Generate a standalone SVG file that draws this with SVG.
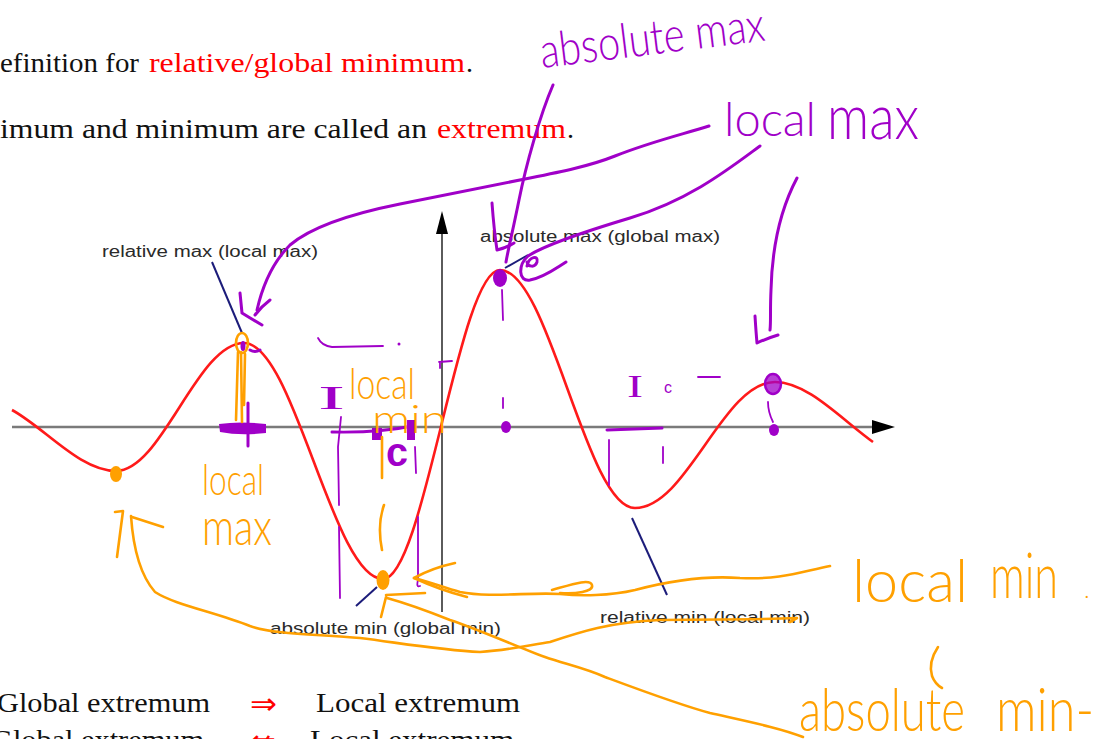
<svg xmlns="http://www.w3.org/2000/svg" width="1097" height="739" viewBox="0 0 1097 739">
<defs>
<style>
.serif{font-family:"Liberation Serif","DejaVu Serif",serif;font-size:28px;fill:#111}
.red{fill:#ff0000}
.lbl{font-family:"Liberation Sans","Noto Sans",sans-serif;font-size:16px;fill:#2a2a2a}
.ptr{stroke:#1c1c7a;stroke-width:2;fill:none}
.pu{fill:none;stroke:#a000c8;stroke-width:3;stroke-linecap:round;stroke-linejoin:round}
.pt{fill:none;stroke:#a000c8;stroke-width:1.8;stroke-linecap:round}
.or{fill:none;stroke:#ffa000;stroke-width:2.6;stroke-linecap:round;stroke-linejoin:round}
.hp{fill:#a000c8;font-family:Lato,"Liberation Sans",sans-serif;font-weight:300}
.ho{fill:#ffa000;font-family:Lato,"Liberation Sans",sans-serif;font-weight:300}
</style>
</defs>
<rect width="1097" height="739" fill="#ffffff"/>

<g id="top-text">
<text class="serif" x="0" y="72" textLength="139" lengthAdjust="spacingAndGlyphs">efinition for</text>
<text class="serif red" x="149" y="72" textLength="316" lengthAdjust="spacingAndGlyphs">relative/global minimum</text>
<text class="serif" x="466" y="72">.</text>
<text class="serif" x="0" y="138" textLength="427" lengthAdjust="spacingAndGlyphs">imum and minimum are called an</text>
<text class="serif red" x="437" y="138" textLength="129" lengthAdjust="spacingAndGlyphs">extremum</text>
<text class="serif" x="567" y="138">.</text>
</g>

<g id="axes">
<line x1="12" y1="427" x2="874" y2="427" stroke="#7a7a7a" stroke-width="2.5"/>
<polygon points="895,427 872,420 872,434" fill="#000"/>
<line x1="442" y1="230" x2="442" y2="612" stroke="#333" stroke-width="1.6"/>
<polygon points="442,211 436,234 448,234" fill="#000"/>
</g>

<g id="curve">
<path d="M12 410 C 45 428, 80 471, 116 471 C 162 471, 197 343, 244 343 C 294 343, 333 579, 383 579 C 424 579, 459 270, 500 270 C 549 270, 586 508, 635 508 C 687 508, 723 382, 775 382 C 808 382, 842 420, 873 442" fill="none" stroke="#ff1a1a" stroke-width="2.6"/>
</g>

<g id="labels">
<text class="lbl" x="102" y="257" textLength="216" lengthAdjust="spacingAndGlyphs">relative max (local max)</text>
<line class="ptr" x1="212" y1="262" x2="242" y2="333"/>
<text class="lbl" x="480" y="242" textLength="240" lengthAdjust="spacingAndGlyphs">absolute max (global max)</text>
<line class="ptr" x1="505" y1="268" x2="528" y2="255"/>
<text class="lbl" x="270" y="634" textLength="231" lengthAdjust="spacingAndGlyphs">absolute min (global min)</text>
<line class="ptr" x1="356" y1="606" x2="377" y2="587"/>
<text class="lbl" x="600" y="623" textLength="210" lengthAdjust="spacingAndGlyphs">relative min (local min)</text>
<line class="ptr" x1="632" y1="518" x2="667" y2="595"/>
</g>

<g id="bottom-text">
<text class="serif" x="-3" y="712" font-size="29" textLength="213" lengthAdjust="spacingAndGlyphs">Global extremum</text>
<text x="250" y="714" font-family="DejaVu Sans,sans-serif" font-size="30" fill="#ff0000" textLength="27" lengthAdjust="spacingAndGlyphs">⇒</text>
<text class="serif" x="316" y="712" font-size="29" textLength="204" lengthAdjust="spacingAndGlyphs">Local extremum</text>
<text class="serif" x="-9" y="749" font-size="29" textLength="213" lengthAdjust="spacingAndGlyphs">Global extremum</text>
<text x="249" y="751" font-family="DejaVu Sans,sans-serif" font-size="30" fill="#ff0000" textLength="27" lengthAdjust="spacingAndGlyphs">⇍</text>
<text class="serif" x="310" y="749" font-size="29" textLength="204" lengthAdjust="spacingAndGlyphs">Local extremum</text>
</g>

<g id="purple-notes">
<text class="hp" x="542" y="68" font-size="48" textLength="226" lengthAdjust="spacingAndGlyphs" transform="rotate(-7 542 68)">absolute max</text>
<text class="hp" x="724" y="136" font-size="48" textLength="92" lengthAdjust="spacingAndGlyphs">local</text>
<text class="hp" x="827" y="139" font-size="64" textLength="92" lengthAdjust="spacingAndGlyphs">max</text>
<path class="pu" d="M553 85 C 540 115, 526 165, 519 200 C 513 230, 508 250, 506 262"/>
<path class="pu" d="M492 203 Q 494 230 497 250 Q 506 248 514 243"/>
<path class="pu" d="M709 126 C 680 135, 650 142, 615 156 C 590 166, 560 172, 530 178 C 490 186, 450 194, 400 204 C 350 214, 310 228, 290 245 C 272 263, 262 288, 257 310"/>
<path class="pu" d="M240 293 L 242 313 Q 250 318 262 325 M270 300 Q 262 306 255 315"/>
<path class="pu" d="M760 146 C 730 168, 690 200, 630 218 C 590 230, 545 245, 528 256 C 518 265, 518 282, 530 280 C 545 277, 556 268, 566 262"/>
<path class="pu" d="M527 266 C 529 256, 539 255, 537 262 C 535 268, 528 267, 527 262"/>
<path class="pu" d="M797 178 C 780 210, 772 250, 771 290 C 770 310, 771 322, 770 330"/>
<path class="pu" d="M755 316 Q 756 332 757 343 Q 768 338 778 335"/>
<ellipse cx="500" cy="278" rx="7" ry="9" fill="#a000c8"/>
<path class="pt" d="M502 290 L 503 320 M503 398 L 503 408"/>
<ellipse cx="506" cy="427" rx="5" ry="6" fill="#a000c8"/>
<ellipse cx="773" cy="384" rx="8" ry="10" fill="#a000c8" fill-opacity="0.75" stroke="#a000c8" stroke-width="2.5"/>
<path class="pt" d="M768 402 Q 768 412 773 422"/>
<ellipse cx="774" cy="430" rx="5" ry="6" fill="#a000c8"/>
<path d="M219 424 Q 240 421 266 424 L 266 433 Q 240 436 220 432 Z" fill="#a000c8"/>
<path class="pu" d="M248 403 L 248 446"/>
<path class="pu" d="M250 350 Q 255 353 260 350" stroke-width="1.8"/>
<path class="pu" d="M332 432 Q 380 433 412 426"/>
<path class="pt" d="M341 417 L 338 447 L 339 505 M339 527 L 340 598"/>
<rect x="372" y="428" width="10" height="12" fill="#a000c8"/>
<rect x="407" y="420" width="8" height="20" fill="#a000c8"/>
<path class="pt" d="M415 447 L 416 473 M418 517 L 418 580 Q 416 588 420 586"/>
<path class="pt" d="M318 338 Q 322 346 332 347 L 383 346"/>
<circle cx="399" cy="344" r="1.5" fill="#a000c8"/>
<path class="pt" d="M439 362 L 452 361 M440 362 L 440 368"/>
<text x="318" y="409" font-family="Liberation Serif,serif" font-size="34" fill="#a000c8" textLength="27" lengthAdjust="spacingAndGlyphs">I</text>
<text x="386" y="466" font-size="40" font-weight="bold" fill="#a000c8" font-family="Liberation Sans,sans-serif" textLength="22" lengthAdjust="spacingAndGlyphs">c</text>
<path class="pu" d="M607 430 L 662 428" stroke-width="5"/>
<path class="pt" d="M609 440 L 609 485 M663 447 L 663 463"/>
<text x="627" y="397" font-family="Liberation Serif,serif" font-size="32" fill="#a000c8" textLength="16" lengthAdjust="spacingAndGlyphs">I</text>
<text x="664" y="393" font-family="Liberation Sans,sans-serif" font-size="16" fill="#a000c8">c</text>
<path class="pt" d="M698 377 L 720 377"/>
<ellipse cx="243" cy="346" rx="2.5" ry="5" fill="#a000c8"/>
</g>

<g id="orange-notes">
<ellipse cx="242" cy="343" rx="6" ry="10" class="or"/>
<path class="or" d="M238 352 L 236 420 M241 352 L 242 422 M245 354 L 244 405" stroke-width="2.2"/>
<ellipse cx="116" cy="474" rx="6" ry="8" fill="#ffa000"/>
<ellipse cx="383" cy="580" rx="6.5" ry="10" fill="#ffa000"/>
<path class="or" d="M382 437 L 382 478 M384 505 Q 377 525 382 550"/>
<text class="ho" x="202" y="495" font-size="44" textLength="62" lengthAdjust="spacingAndGlyphs">local</text>
<text class="ho" x="202" y="545" font-size="52" textLength="70" lengthAdjust="spacingAndGlyphs">max</text>
<text class="ho" x="349" y="399" font-size="44" textLength="66" lengthAdjust="spacingAndGlyphs">local</text>
<text class="ho" x="372" y="433" font-size="40" textLength="75" lengthAdjust="spacingAndGlyphs">min</text>
<path class="or" d="M115 512 L 123 511 L 117 557 M132 517 L 163 527"/>
<path class="or" d="M131 516 C 133 545, 140 575, 155 592 C 175 605, 215 612, 250 626 C 275 635, 320 634, 360 638 C 400 643, 440 650, 480 652 C 510 650, 530 645, 550 642 C 580 632, 610 622, 660 620 C 720 619, 760 620, 797 618 L 790 622"/>
<path class="or" d="M830 566 C 800 572, 780 580, 740 578 C 700 575, 665 582, 635 590 C 610 596, 580 596, 560 594 C 530 592, 490 598, 460 592 C 445 588, 430 582, 414 578"/>
<path class="or" d="M552 590 C 570 585, 590 578, 592 585 C 594 592, 575 594, 560 593"/>
<path class="or" d="M455 563 Q 432 568 414 578 Q 440 590 467 597"/>
<path class="or" d="M803 737 C 780 728, 750 722, 710 713 C 680 705, 640 690, 605 677 C 585 668, 565 664, 545 657 C 520 648, 480 630, 450 620 C 430 612, 405 603, 387 598"/>
<path class="or" d="M386 597 L 381 617 M386 595 L 425 593"/>
<text class="ho" x="852" y="602" font-size="60" textLength="116" lengthAdjust="spacingAndGlyphs">local</text>
<text class="ho" x="990" y="598" font-size="64" textLength="68" lengthAdjust="spacingAndGlyphs">min</text>
<text class="ho" x="1084" y="598" font-size="24">.</text>
<path class="or" d="M938 647 Q 928 662 932 676 Q 935 684 942 688"/>
<text class="ho" x="799" y="731" font-size="60" textLength="166" lengthAdjust="spacingAndGlyphs">absolute</text>
<text class="ho" x="996" y="731" font-size="62" textLength="98" lengthAdjust="spacingAndGlyphs">min-</text>
</g>
</svg>
